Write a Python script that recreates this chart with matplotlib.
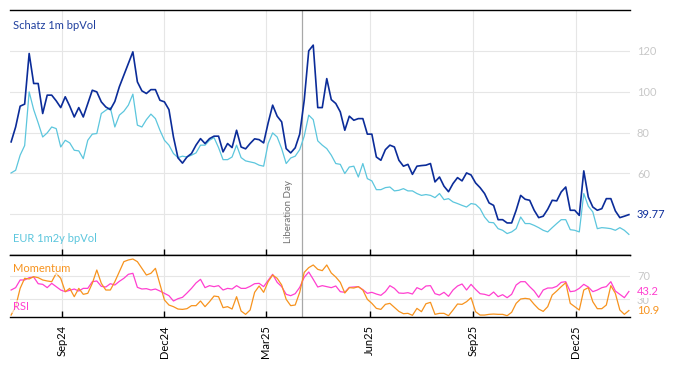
import matplotlib
matplotlib.use("Agg")
import matplotlib.pyplot as plt
import matplotlib.dates as mdates
import matplotlib.transforms as mtransforms
import pandas as pd

plt.rcParams['font.family'] = ['Lato', 'DejaVu Sans']

# ---- data (every 4 days) ----
start_date = "2024-07-18"
n_points = 138
dates = pd.date_range(start=start_date, periods=n_points, freq="4D")

schatz = [75.4, 82.7, 92.9, 93.9, 118.7, 104.0, 104.0, 89.3, 98.3, 98.3,
          95.5, 92.2, 97.5, 92.9, 87.6, 92.2, 87.6, 94.2, 100.7, 99.9,
          95.0, 92.5, 91.2, 95.2, 102.4, 108.1, 113.8, 119.5, 104.8, 100.4,
          99.1, 101.0, 101.0, 95.8, 95.0, 91.2, 77.8, 67.6, 65.0, 68.0,
          69.7, 73.8, 77.0, 74.6, 77.0, 78.2, 78.2, 70.5, 74.6, 72.6,
          81.1, 72.9, 72.0, 74.6, 76.9, 76.5, 74.9, 84.7, 93.4, 88.0,
          85.2, 72.1, 70.0, 72.5, 79.2, 95.8, 120.0, 122.8, 92.2, 92.2,
          106.4, 96.1, 94.2, 90.1, 81.1, 88.0, 86.0, 86.8, 86.8, 79.2,
          79.2, 68.0, 66.4, 71.6, 73.8, 72.9, 66.4, 63.5, 64.4, 59.5,
          63.5, 63.8, 64.0, 64.8, 55.8, 58.2, 53.7, 51.0, 55.0, 57.9,
          56.3, 60.2, 59.2, 55.3, 53.0, 50.1, 45.5, 44.3, 37.3, 37.3,
          35.7, 35.7, 41.9, 49.2, 47.3, 46.8, 41.9, 38.3, 39.0, 42.4,
          46.8, 46.5, 50.9, 53.3, 41.9, 41.9, 39.4, 61.2, 48.4, 43.5,
          41.9, 42.7, 47.6, 47.6, 41.6, 38.3, 39.0, 39.77]

eur = [60.2, 61.5, 68.9, 73.6, 99.9, 91.2, 84.7, 77.8, 79.8, 82.7,
       81.9, 72.9, 76.2, 74.9, 71.3, 71.0, 67.2, 76.2, 79.2, 79.5,
       89.3, 90.9, 92.2, 82.7, 88.5, 90.4, 93.4, 98.8, 83.6, 82.7,
       86.3, 89.0, 86.8, 81.1, 76.2, 73.8, 69.7, 67.7, 68.4, 68.0,
       68.9, 70.0, 73.8, 73.8, 76.2, 77.5, 72.6, 66.7, 66.7, 68.0,
       73.8, 67.7, 66.1, 65.6, 65.1, 64.0, 63.5, 74.6, 79.8, 77.8,
       72.1, 64.8, 67.5, 68.4, 71.6, 78.2, 88.5, 86.3, 75.9, 73.8,
       72.1, 68.9, 64.8, 64.4, 59.9, 63.1, 63.5, 58.2, 64.8, 57.4,
       56.3, 52.0, 52.0, 53.0, 53.3, 51.4, 51.7, 52.5, 51.4, 51.4,
       50.1, 49.2, 49.6, 49.2, 48.1, 50.1, 47.1, 47.6, 46.0, 45.2,
       44.3, 43.5, 45.2, 44.8, 42.7, 38.6, 36.0, 35.8, 32.9, 32.1,
       30.5, 31.3, 32.9, 38.6, 35.4, 35.4, 34.5, 33.4, 32.1, 31.3,
       33.4, 35.4, 37.3, 37.3, 32.4, 32.1, 31.3, 50.1, 43.9, 41.1,
       32.9, 33.4, 33.2, 32.9, 32.1, 33.4, 32.1, 30.1]

momentum = [3.3, 17.5, 48.5, 65.5, 64.4, 68.3, 66.6, 62.7, 61.0, 59.8,
            74.0, 65.5, 42.9, 48.5, 34.4, 48.5, 38.4, 40.1, 57.0, 79.6,
            57.0, 45.7, 45.7, 59.8, 76.8, 93.7, 96.6, 98.2, 93.7, 82.4,
            71.1, 74.0, 82.4, 55.3, 28.8, 20.3, 17.5, 13.5, 12.9, 14.1,
            19.2, 19.2, 27.1, 17.5, 25.9, 35.5, 34.4, 15.8, 17.5, 13.5,
            34.4, 10.1, 4.5, 11.8, 41.8, 52.5, 41.8, 59.8, 71.1, 65.5,
            54.2, 29.9, 19.2, 20.3, 41.8, 75.6, 83.6, 88.1, 80.7, 78.5,
            88.1, 74.5, 67.7, 58.7, 40.6, 49.7, 49.1, 51.4, 45.7, 29.9,
            23.1, 14.6, 12.9, 21.4, 23.1, 16.3, 9.5, 5.6, 6.2, 2.8,
            14.6, 9.0, 22.5, 24.8, 4.5, 6.2, 6.2, 2.2, 11.8, 22.0,
            21.4, 25.9, 32.7, 9.0, 3.3, 3.3, 4.5, 5.0, 4.5, 4.5,
            2.2, 7.9, 23.1, 30.5, 31.6, 30.5, 21.4, 13.5, 9.5, 17.5,
            37.2, 44.0, 51.4, 58.1, 23.1, 17.5, 11.8, 45.7, 49.7, 25.9,
            14.1, 14.1, 20.3, 53.1, 40.1, 11.8, 4.5, 10.9]

rsi = [45.7, 49.7, 62.7, 62.7, 66.6, 67.7, 56.4, 55.3, 49.7, 57.0,
       51.4, 45.7, 42.9, 45.1, 47.4, 44.0, 48.5, 48.5, 59.8, 61.0,
       51.9, 50.8, 56.4, 54.2, 60.4, 65.5, 72.3, 74.0, 50.2, 47.4,
       48.0, 45.7, 47.4, 44.0, 40.1, 36.1, 27.1, 31.0, 33.3, 40.6,
       48.5, 57.6, 63.8, 49.7, 53.1, 51.4, 53.1, 45.7, 48.5, 47.4,
       53.1, 48.5, 48.5, 51.9, 56.4, 57.0, 51.4, 62.1, 72.3, 58.7,
       51.4, 38.4, 36.1, 39.5, 50.2, 67.2, 76.2, 63.8, 50.8, 53.1,
       51.4, 49.7, 52.5, 42.9, 41.8, 50.2, 50.8, 51.4, 46.3, 40.1,
       41.8, 38.9, 36.7, 42.9, 53.1, 48.5, 40.6, 40.1, 41.2, 38.9,
       49.7, 46.3, 52.5, 53.1, 39.5, 37.2, 41.8, 35.0, 45.7, 52.5,
       55.9, 45.7, 55.3, 46.8, 39.5, 38.4, 36.1, 42.3, 34.4, 37.8,
       32.7, 38.4, 54.2, 59.8, 59.8, 51.4, 44.0, 33.3, 45.7, 49.1,
       49.1, 51.9, 58.7, 59.8, 42.9, 44.0, 48.5, 55.3, 50.8, 42.9,
       45.7, 49.7, 51.4, 59.8, 44.0, 38.4, 32.7, 43.2]

tick_dates = ["2024-09-01", "2024-12-01", "2025-03-01", "2025-06-01", "2025-09-01", "2025-12-01"]
tick_labels = ["Sep24", "Dec24", "Mar25", "Jun25", "Sep25", "Dec25"]
event_date = "2025-04-02"
event_label = "Liberation Day"
top_ticks = [40, 60, 80, 100, 120]
top_ticklabels = ["", "60", "80", "100", "120"]
bot_ticks = [30, 70]

# ---- styling ----
C_DARK = "#0b2c99"
C_LIGHT = "#5cc6dd"
C_ORANGE = "#f7931e"
C_MAG = "#ff3fd0"
C_GRID = "#e6e6e6"
C_TICKLBL = "#c8c8c8"

W, H = 674, 366
fig = plt.figure(figsize=(W / 100, H / 100), dpi=100)
L, R = 10 / W, 630 / W
ax1 = fig.add_axes([L, 1 - 255 / H, R - L, 245 / H])
ax2 = fig.add_axes([L, 1 - 317 / H, R - L, 62 / H], sharex=ax1)

ax1.plot(dates, eur, color=C_LIGHT, lw=0.9, zorder=3)
ax1.plot(dates, schatz, color=C_DARK, lw=1.2, zorder=4)
ax2.plot(dates, rsi, color=C_MAG, lw=0.9, zorder=3)
ax2.plot(dates, momentum, color=C_ORANGE, lw=0.9, zorder=4)

xlim = (pd.Timestamp("2024-07-17"), pd.Timestamp("2026-01-18"))
ax1.set_xlim(*xlim)
ax1.set_ylim(20, 140)
ax2.set_ylim(0, 105)

tick_pos = pd.to_datetime(tick_dates)
for ax in (ax1, ax2):
    for s in ("left", "right"):
        ax.spines[s].set_visible(False)
    for s in ("top", "bottom"):
        ax.spines[s].set_color("black")
        ax.spines[s].set_linewidth(1.0)
    ax.set_xticks(tick_pos)
    ax.grid(True, color=C_GRID, lw=0.8, zorder=0)
    ax.set_axisbelow(True)
    ax.tick_params(axis="x", direction="in", length=4, width=1, color="black")
    ax.yaxis.tick_right()
    ax.tick_params(axis="y", length=0, pad=5, labelsize=8, labelcolor=C_TICKLBL)
    ax.axvline(pd.Timestamp(event_date), color="#a8a8a8", lw=0.9, zorder=2)

ax1.tick_params(axis="x", labelbottom=False)
ax2.set_xticklabels(tick_labels, rotation=90, fontsize=8)
ax2.tick_params(axis="x", pad=6)

ax1.set_yticks(top_ticks)
ax1.set_yticklabels(top_ticklabels)
ax2.set_yticks(bot_ticks)

# last value labels
bt1 = mtransforms.blended_transform_factory(ax1.transAxes, ax1.transData)
off = mtransforms.offset_copy(bt1, fig=fig, x=7, y=0, units="dots")
ax1.text(1, schatz[-1], f"{schatz[-1]:.2f}", transform=off, color=C_DARK, fontsize=8,
         ha="left", va="center", clip_on=False,
         bbox=dict(facecolor="white", edgecolor="none", pad=0.5))
bt2 = mtransforms.blended_transform_factory(ax2.transAxes, ax2.transData)
off2 = mtransforms.offset_copy(bt2, fig=fig, x=7, y=0, units="dots")
ax2.text(1, rsi[-1], f"{rsi[-1]:.1f}", transform=off2, color=C_MAG, fontsize=8,
         ha="left", va="center", clip_on=False,
         bbox=dict(facecolor="white", edgecolor="none", pad=0.5))
ax2.text(1, momentum[-1], f"{momentum[-1]:.1f}", transform=off2, color=C_ORANGE, fontsize=8,
         ha="left", va="center", clip_on=False,
         bbox=dict(facecolor="white", edgecolor="none", pad=0.5))

# series labels
wb = dict(facecolor="white", edgecolor="none", alpha=0.6, pad=1)
ax1.text(0.005, 0.938, "Schatz 1m bpVol", transform=ax1.transAxes, color="#1f3f9e",
         fontsize=8, ha="left", va="center", zorder=6)
ax1.text(0.005, 0.067, "EUR 1m2y bpVol", transform=ax1.transAxes, color=C_LIGHT,
         fontsize=8, ha="left", va="center", zorder=6)
ax2.text(0.005, 0.79, "Momentum", transform=ax2.transAxes, color=C_ORANGE,
         fontsize=8, ha="left", va="center", zorder=6, bbox=wb)
ax2.text(0.005, 0.17, "RSI", transform=ax2.transAxes, color=C_MAG,
         fontsize=8, ha="left", va="center", zorder=6, bbox=wb)

# event label
bt3 = mtransforms.blended_transform_factory(ax1.transData, ax1.transAxes)
off3 = mtransforms.offset_copy(bt3, fig=fig, x=-9, y=0, units="dots")
ax1.text(pd.Timestamp(event_date), 0.05, event_label, transform=off3, rotation=90,
         color="#707070", fontsize=7, ha="right", va="bottom")

fig.savefig("out.png", dpi=100)
